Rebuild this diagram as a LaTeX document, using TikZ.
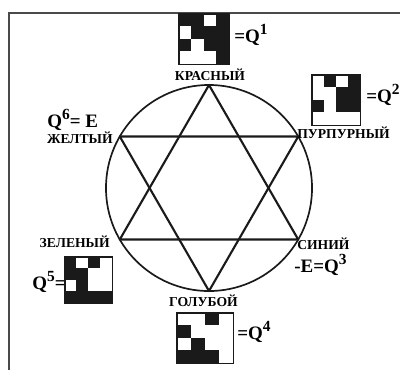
\documentclass[tikz,border=0pt]{standalone}
\usepackage{fontspec}
\setmainfont{Liberation Serif}
\usepackage{xcolor}
\usepackage{tikz}
\usetikzlibrary{calc}
\definecolor{hexInk}{HTML}{1A1A1A}
\definecolor{hexFrame}{HTML}{4A4A4A}
\tikzset{
  hexlabel/.style={font=\bfseries\fontsize{9.7}{11}\selectfont,inner sep=0pt},
  hexpower/.style={font=\bfseries\fontsize{13.5}{15}\selectfont,inner sep=0pt},
  hexbox/.style={draw=hexInk,line width=0.6pt,inner sep=0pt},
  hexcell/.style={fill=hexInk},
  hexring/.style={draw=hexInk,line width=1.2pt},
  hexstar/.style={draw=hexInk,line width=1.5pt,line join=round},
  hexframe/.style={draw=hexFrame,line width=1.4pt}
}
% raised exponent, almost as large as the letter
\newcommand{\hexsup}[1]{\raisebox{0.38em}{\fontsize{11}{12}\selectfont #1}}
% 4x4 code matrix: name, centre, cell width, cell height, black cells row/col
\newcommand{\hexmatrix}[5]{%
  \node[hexbox,minimum width=#3*0.1cm,minimum height=#4*0.1cm] (#1) at (#2) {};
  \foreach \qr/\qc in {#5}
    \fill[hexcell] ($(#1.north west)+({(\qc-1)*#3},{(\qr-1)*#4})$)
      rectangle ++(#3,#4);
  \draw[hexbox] (#1.north west) rectangle (#1.south east);
}

\begin{document}
\begin{tikzpicture}[x=0.025cm,y=-0.025cm]
    \useasboundingbox (0,0) rectangle (400,370);
    \draw[hexframe] (400,13) -| (9,370);

    \coordinate (hub) at (209,188);
    \draw[hexring] (hub) circle[radius=2.575cm];
    \foreach \v/\a in {vr/-90,vp/-30,vb/30,vc/90,vg/150,vy/210}
      \coordinate (\v) at ($(hub)+(\a:103)$);
    \draw[hexstar] (vr) -- (vb) -- (vg) -- cycle;
    \draw[hexstar] (vc) -- (vy) -- (vp) -- cycle;

    \node[hexlabel,anchor=base] (krasnyj) at (210,80) {КРАСНЫЙ};
    \node[hexlabel,anchor=base west] (purpurnyj) at (297,138) {ПУРПУРНЫЙ};
    \node[hexlabel,anchor=base west] (sinij) at (297,249) {СИНИЙ};
    \node[hexlabel,anchor=base] (goluboj) at (203.5,306) {ГОЛУБОЙ};
    \node[hexlabel,anchor=base east] (zelenyj) at (110,247) {ЗЕЛЕНЫЙ};
    \node[hexlabel,anchor=base east] (zheltyj) at (113,143) {ЖЕЛТЫЙ};

    \node[hexpower,anchor=base west] (q1) at (234,42) {=Q\hexsup{1}};
    \node[hexpower,anchor=base west] (q2) at (366,102) {=Q\hexsup{2}};
    \node[hexpower,anchor=base west] (q3) at (294,272) {-E=Q\hexsup{3}};
    \node[hexpower,anchor=base west] (q4) at (237,339) {=Q\hexsup{4}};
    \node[hexpower,anchor=base west] (q5) at (32,289) {Q\hexsup{5}=};
    \node[hexpower,anchor=base west] (q6) at (47,127) {Q\hexsup{6}= E};

    \hexmatrix{m1}{204,39}{12.5}{12.5}{1/1,1/2,1/4,2/2,2/3,2/4,3/1,3/3,3/4,4/4}
    \hexmatrix{m2}{336,100}{12}{12.5}{1/2,1/4,2/3,2/4,3/1,3/3,3/4}
    \hexmatrix{m4}{205,338}{14}{12.5}{1/3,2/1,3/2,4/1,4/2,4/3}
    \hexmatrix{m5}{88.5,280}{11.75}{11.5}{1/1,1/3,2/1,2/2,3/2,4/1,4/2,4/3,4/4}
\end{tikzpicture}
\end{document}
